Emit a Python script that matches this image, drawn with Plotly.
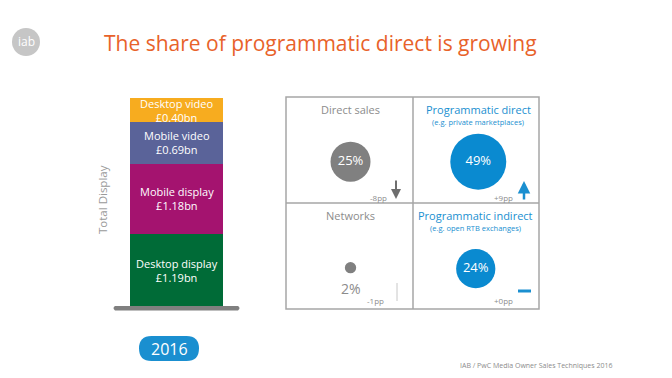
import plotly.graph_objects as go

# ---- data ----
segments = ["Desktop display", "Mobile display", "Mobile video", "Desktop video"]
seg_values = [1.19, 1.18, 0.69, 0.40]
seg_labels = ["£1.19bn", "£1.18bn", "£0.69bn", "£0.40bn"]
seg_colors = ["#006b37", "#a4136f", "#5a6399", "#f7ac1f"]
year = "2016"

channels = ["Direct sales", "Programmatic direct", "Networks", "Programmatic indirect"]
subtitles = ["", "(e.g. private marketplaces)", "", "(e.g. open RTB exchanges)"]
shares = [25, 49, 2, 24]
changes = ["-8pp", "+9pp", "-1pp", "+0pp"]
quad_x = [0.51, 1.52, 0.51, 1.50]
quad_y = [1.39, 1.39, 0.39, 0.38]

GRAY = "#808080"
BLUE = "#1a8fd0"
FONT = "Open Sans"

W, H = 672, 378


def px(x):
    return x / W


def py(y):
    return 1 - y / H


def x2(xp):
    return (xp - 286) / 253 * 2


def y2(yp):
    return (309 - yp) / 106


fig = go.Figure()

# stacked bar
for name, v, c in zip(segments, seg_values, seg_colors):
    fig.add_trace(go.Bar(x=[0], y=[v], name=name, marker=dict(color=c, line=dict(width=0)),
                         width=0.74, xaxis="x", yaxis="y", hoverinfo="skip", showlegend=False))

cum = 0
for name, v, lab in zip(segments, seg_values, seg_labels):
    fig.add_annotation(x=0, y=cum + v / 2, xref="x", yref="y", text=f"{name}<br>{lab}",
                       showarrow=False, xanchor="center", yanchor="middle",
                       font=dict(color="white", size=11, family=FONT), align="center")
    cum += v

# bubbles
sizeref = 2.0 * max(shares) / (56 ** 2)
text_col = ["white", "white", "rgba(0,0,0,0)", "white"]
fig.add_trace(go.Scatter(
    x=quad_x, y=quad_y, mode="markers+text", xaxis="x2", yaxis="y2",
    marker=dict(size=shares, sizemode="area", sizeref=sizeref, opacity=1,
                color=[GRAY, "#0a8ad0", GRAY, "#0a8ad0"], line=dict(width=0)),
    text=[f"{s}%" for s in shares], textposition="middle center",
    textfont=dict(color=text_col, size=13, family=FONT),
    hoverinfo="skip", showlegend=False, cliponaxis=False))
# small-share label sits below its bubble
fig.add_annotation(x=quad_x[2], y=y2(288), xref="x2", yref="y2", text=f"{shares[2]}%", showarrow=False,
                   xanchor="center", yanchor="middle", font=dict(color="#8c8c8c", size=14, family=FONT))

# quadrant titles
title_x = [0.51, 1.52, 0.51, 1.50]
title_y = [y2(109), y2(109), y2(215), y2(215)]
for i, ch in enumerate(channels):
    prog = i in (1, 3)
    fig.add_annotation(x=title_x[i], y=title_y[i], xref="x2", yref="y2", text=ch, showarrow=False,
                       xanchor="center", yanchor="middle",
                       font=dict(color=BLUE if prog else "#8c8c8c", size=11, family=FONT))
    if subtitles[i]:
        fig.add_annotation(x=title_x[i], y=title_y[i] - 13 / 106, xref="x2", yref="y2", text=subtitles[i],
                           showarrow=False, xanchor="center", yanchor="middle",
                           font=dict(color=BLUE, size=7.5, family=FONT))

# change labels
chg_x = [x2(389), x2(515), x2(386), x2(515)]
chg_y = [y2(197), y2(197), y2(300), y2(300)]
for i, c in enumerate(changes):
    fig.add_annotation(x=chg_x[i], y=chg_y[i], xref="x2", yref="y2",
                       text=c, showarrow=False, xanchor="right", yanchor="middle",
                       font=dict(color="#8c8c8c", size=8, family=FONT))

# arrows
fig.add_annotation(x=x2(396), y=y2(199), ax=x2(396), ay=y2(179), xref="x2", yref="y2", axref="x2", ayref="y2",
                   text="", showarrow=True, arrowhead=2, arrowsize=1, arrowwidth=2, arrowcolor="#6e6e6e")
fig.add_annotation(x=x2(524), y=y2(181), ax=x2(524), ay=y2(201), xref="x2", yref="y2", axref="x2", ayref="y2",
                   text="", showarrow=True, arrowhead=2, arrowsize=1, arrowwidth=2.5, arrowcolor=BLUE)

shapes = []
# grid box
shapes.append(dict(type="rect", xref="paper", yref="paper", x0=px(286), x1=px(539), y0=py(309), y1=py(97),
                   line=dict(color="#a6a6a6", width=1.5)))
shapes.append(dict(type="line", xref="paper", yref="paper", x0=px(413), x1=px(413), y0=py(309), y1=py(97),
                   line=dict(color="#a6a6a6", width=1.5)))
shapes.append(dict(type="line", xref="paper", yref="paper", x0=px(286), x1=px(539), y0=py(203), y1=py(203),
                   line=dict(color="#a6a6a6", width=1.5)))
# -1pp thin line, +0pp dash
shapes.append(dict(type="line", xref="paper", yref="paper", x0=px(397), x1=px(397), y0=py(283), y1=py(301),
                   line=dict(color="#c8c8c8", width=1)))
shapes.append(dict(type="line", xref="paper", yref="paper", x0=px(518), x1=px(531), y0=py(291), y1=py(291),
                   line=dict(color=BLUE, width=3)))
# bar base
shapes.append(dict(type="path", xref="paper", yref="paper",
                   path=f"M {px(115)},{py(306)} L {px(238)},{py(306)} Q {px(241)},{py(308)} {px(238)},{py(310.5)} "
                        f"L {px(115)},{py(310.5)} Q {px(112)},{py(308)} {px(115)},{py(306)} Z",
                   fillcolor="#808080", line=dict(width=0)))
# 2016 pill
x0, x1, y0, y1, r = 139, 199, 336, 361, 12.5
shapes.append(dict(type="path", xref="paper", yref="paper",
                   path=(f"M {px(x0 + r)},{py(y0)} L {px(x1 - r)},{py(y0)} "
                         f"Q {px(x1)},{py(y0)} {px(x1)},{py((y0 + y1) / 2)} "
                         f"Q {px(x1)},{py(y1)} {px(x1 - r)},{py(y1)} "
                         f"L {px(x0 + r)},{py(y1)} "
                         f"Q {px(x0)},{py(y1)} {px(x0)},{py((y0 + y1) / 2)} "
                         f"Q {px(x0)},{py(y0)} {px(x0 + r)},{py(y0)} Z"),
                   fillcolor=BLUE, line=dict(width=0)))
# logo
shapes.append(dict(type="circle", xref="paper", yref="paper", x0=px(12), x1=px(40), y0=py(56), y1=py(28),
                   fillcolor="#c6c6c6", line=dict(width=0)))

fig.add_annotation(x=px(169), y=py(348.5), xref="paper", yref="paper", text=year, showarrow=False,
                   xanchor="center", yanchor="middle", font=dict(color="white", size=16, family=FONT))
fig.add_annotation(x=px(26), y=py(41.5), xref="paper", yref="paper", text="iab", showarrow=False,
                   xanchor="center", yanchor="middle", font=dict(color="white", size=12, family=FONT))
fig.add_annotation(x=px(102), y=py(43), xref="paper", yref="paper", xanchor="left", yanchor="middle",
                   text="The share of programmatic direct is growing", showarrow=False,
                   font=dict(color="#e8622a", size=21, family=FONT))
fig.add_annotation(x=px(102), y=py(199), xref="paper", yref="paper", text="Total Display", textangle=-90,
                   xanchor="center", yanchor="middle",
                   showarrow=False, font=dict(color="#9a9a9a", size=11.5, family=FONT))
fig.add_annotation(x=px(614), y=py(365), xref="paper", yref="paper", xanchor="right", yanchor="middle",
                   text="IAB / PwC Media Owner Sales Techniques 2016", showarrow=False,
                   font=dict(color="#8c8c8c", size=7, family=FONT))

fig.update_layout(
    width=W, height=H, margin=dict(l=0, r=0, t=0, b=0),
    paper_bgcolor="white", plot_bgcolor="rgba(0,0,0,0)",
    barmode="stack", bargap=0,
    xaxis=dict(domain=[px(113), px(240)], range=[-0.5, 0.5], visible=False, fixedrange=True),
    yaxis=dict(domain=[py(306), py(98)], range=[0, sum(seg_values)], visible=False, fixedrange=True),
    xaxis2=dict(domain=[px(286), px(539)], range=[0, 2], visible=False, anchor="y2"),
    yaxis2=dict(domain=[py(309), py(97)], range=[0, 2], visible=False, anchor="x2"),
    shapes=shapes,
)

fig.write_html("out.html", config={"displayModeBar": False},
               post_script="document.body.style.margin='0';")
